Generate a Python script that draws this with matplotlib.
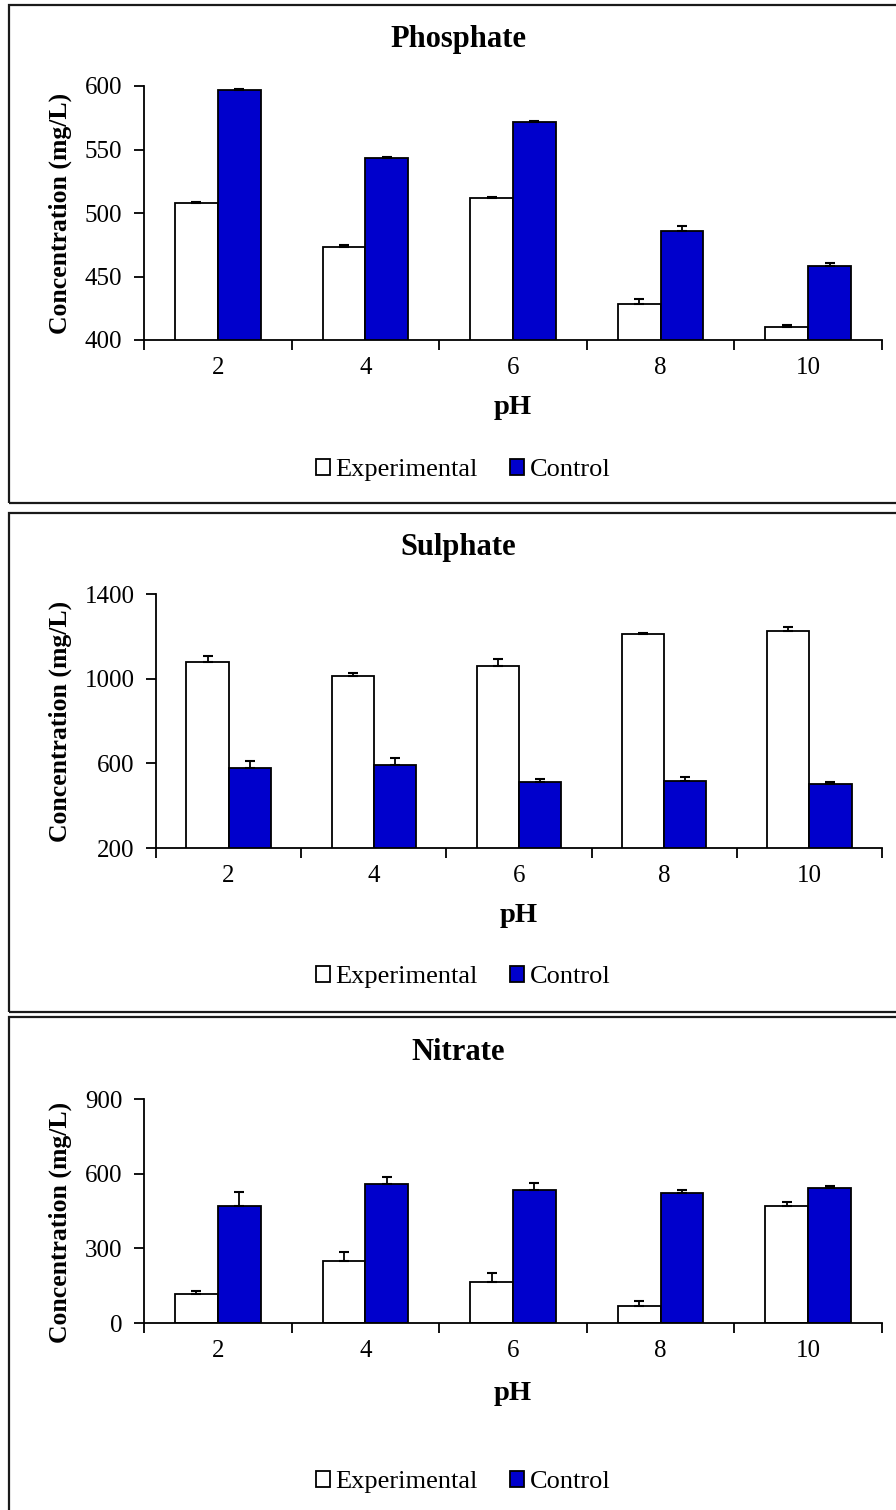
import numpy as np
import matplotlib
matplotlib.use("Agg")
import matplotlib.pyplot as plt
from matplotlib.patches import Rectangle

plt.rcParams['font.family'] = ['Liberation Serif', 'DejaVu Serif']

W, H = 896, 1510

ph_labels = ['2', '4', '6', '8', '10']
series_names = ['Experimental', 'Control']

# Phosphate (mg/L)
phosphate_exp = [508, 473.5, 511.5, 428, 410.5]
phosphate_exp_err = [1, 1, 1, 4, 1]
phosphate_ctl = [597, 543.5, 572, 486, 458.5]
phosphate_ctl_err = [1, 0.5, 0.5, 4, 2.5]

# Sulphate (mg/L)
sulphate_exp = [1079, 1013, 1061, 1209, 1227]
sulphate_exp_err = [27, 15, 33, 6, 17]
sulphate_ctl = [578, 594, 512, 518, 504]
sulphate_ctl_err = [31, 33, 16, 19, 6]

# Nitrate (mg/L)
nitrate_exp = [116, 250, 166, 68, 472]
nitrate_exp_err = [14, 35, 35, 21, 15]
nitrate_ctl = [472, 558, 535, 523, 542]
nitrate_ctl_err = [56, 27, 28, 12, 8]

titles = ['Phosphate', 'Sulphate', 'Nitrate']

BLUE = '#0000CC'


def px_rect(left, top, right, bottom):
    return [left / W, 1 - bottom / H, (right - left) / W, (bottom - top) / H]


def fy(y):
    return 1 - y / H


def fx(x):
    return x / W


def draw_panel(fig, box, ax_px, title, exp, exp_err, ctl, ctl_err,
               ylim, yticks, title_y, tick_y, xlab_y, leg_y, ylab_y):
    # panel border
    x0, y0, x1, y1 = box
    fig.patches.append(Rectangle((fx(x0), fy(y1)), fx(x1) - fx(x0), fy(y0) - fy(y1),
                                 transform=fig.transFigure, fill=False,
                                 edgecolor='#1a1a1a', linewidth=1.6, zorder=0))

    ax = fig.add_axes(px_rect(*ax_px))
    x = np.arange(len(ph_labels))
    w = 0.29
    ekw = dict(elinewidth=1.3, capthick=1.5, ecolor='black')
    # only the upper half of the error bar is shown
    b1 = ax.bar(x - w / 2, exp, w, yerr=[np.zeros(len(exp)), exp_err],
                capsize=3.6, color='white', edgecolor='black', linewidth=1.3,
                error_kw=ekw, label=series_names[0])
    b2 = ax.bar(x + w / 2, ctl, w, yerr=[np.zeros(len(ctl)), ctl_err],
                capsize=3.6, color=BLUE, edgecolor='black', linewidth=1.3,
                error_kw=ekw, label=series_names[1])

    ax.set_xlim(-0.5, len(ph_labels) - 0.5)
    ax.set_ylim(*ylim)
    ax.set_yticks(yticks)
    ax.set_yticklabels([str(t) for t in yticks], fontsize=18)
    ax.set_xticks(np.arange(len(ph_labels) + 1) - 0.5)
    ax.set_xticklabels([])
    ax.set_xticks(x, minor=True)
    ax.set_xticklabels(ph_labels, minor=True, fontsize=18)
    ax.tick_params(axis='x', which='major', length=7, width=1.3, direction='out')
    ax.tick_params(axis='x', which='minor', length=0,
                   pad=(tick_y - ax_px[3]) * 0.72 - 9.5)
    ax.tick_params(axis='y', length=7.5, width=1.3, pad=8)
    for s in ['top', 'right']:
        ax.spines[s].set_visible(False)
    for s in ['left', 'bottom']:
        ax.spines[s].set_linewidth(1.3)

    fig.text(fx(458), fy(title_y), title, fontsize=22, fontweight='bold',
             ha='center', va='center')
    fig.text(fx((ax_px[0] + ax_px[2]) / 2), fy(xlab_y), 'pH', fontsize=20.5,
             fontweight='bold', ha='center', va='center')
    fig.text(fx(60), fy(ylab_y), 'Concentration (mg/L)', fontsize=18.5,
             fontweight='bold', rotation=90, ha='center', va='center')
    fig.legend(handles=[b1, b2], labels=series_names, loc='center',
               bbox_to_anchor=(fx(463), fy(leg_y)), ncol=2, frameon=False,
               fontsize=19, handlelength=0.55, handleheight=0.6,
               handletextpad=0.2, columnspacing=1.2, borderpad=0)
    return ax


fig = plt.figure(figsize=(W / 100, H / 100), dpi=100)

draw_panel(fig, (9, 5, 905, 503), (144, 86, 882, 340), titles[0],
           phosphate_exp, phosphate_exp_err, phosphate_ctl, phosphate_ctl_err,
           (400, 600), [400, 450, 500, 550, 600],
           title_y=40, tick_y=370, xlab_y=408, leg_y=470, ylab_y=213)

draw_panel(fig, (9, 513, 905, 1012), (156, 594, 882, 848), titles[1],
           sulphate_exp, sulphate_exp_err, sulphate_ctl, sulphate_ctl_err,
           (200, 1400), [200, 600, 1000, 1400],
           title_y=548, tick_y=878, xlab_y=915, leg_y=977, ylab_y=721)

draw_panel(fig, (9, 1017, 905, 1520), (144, 1099, 882, 1323), titles[2],
           nitrate_exp, nitrate_exp_err, nitrate_ctl, nitrate_ctl_err,
           (0, 900), [0, 300, 600, 900],
           title_y=1053, tick_y=1353, xlab_y=1393, leg_y=1482, ylab_y=1222)

fig.savefig('out.png', dpi=100)
